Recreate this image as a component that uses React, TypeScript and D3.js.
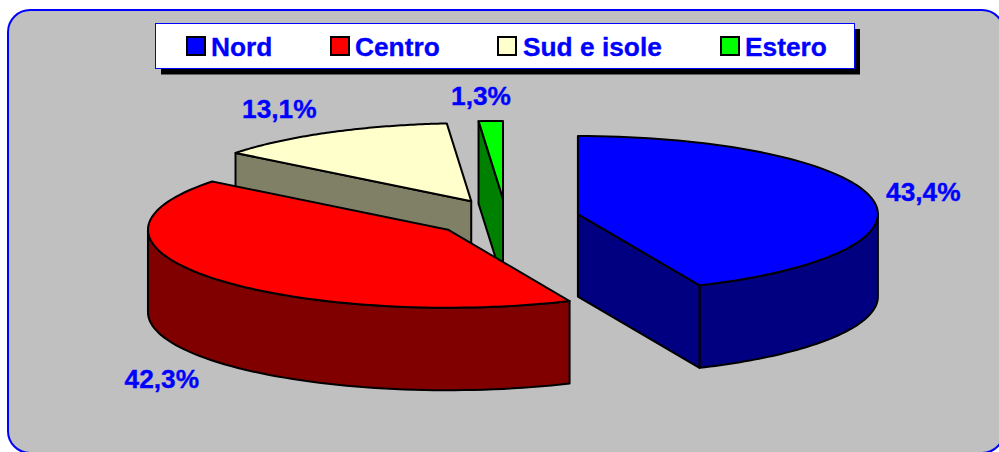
import React from "react";
import * as d3 from "d3";

const categories = ["Nord", "Centro", "Sud e isole", "Estero"];
const values = [43.4, 42.3, 13.1, 1.3];
const valueLabels = ["43,4%", "42,3%", "13,1%", "1,3%"];
const topColors = ["#0000ff", "#ff0000", "#ffffcc", "#00ff00"];
const wallColors = ["#000080", "#800000", "#808066", "#008000"];
const labelX = [886, 124.5, 242, 451];
const labelY = [201, 388, 117.5, 105];
const legendSwatchX = [187, 331, 498, 721];
const legendTextX = [211, 355, 523, 745];
const drawOrder = [2, 3, 1, 0];

const W = 999;
const H = 452;
const RX = 300;
const RY = 78;
const DEPTH = 82.5;
const CX = 506;
const CY = 218;
const EXPLODE = 0.245;
const STROKE = 2;

const sx = d3.scaleLinear().domain([-1, 1]).range([-RX, RX]);
const sy = d3.scaleLinear().domain([-1, 1]).range([RY, -RY]);

const arcs = d3.pie<number>().sort(null).value((d) => d).startAngle(0).endAngle(2 * Math.PI)(values);

type P = [number, number];

function App() {
  const line = d3.line<P>().x((d) => d[0]).y((d) => d[1]);
  const slices = arcs.map((a, i) => {
    const mid = (a.startAngle + a.endAngle) / 2;
    const cx = CX + EXPLODE * sx(Math.sin(mid));
    const cy = CY + EXPLODE * sy(Math.cos(mid));
    const pt = (t: number, dz = 0): P => [cx + sx(Math.sin(t)), cy + sy(Math.cos(t)) + dz];
    const apex: P = [cx, cy];
    const steps = d3.range(0, 81).map((k) => a.startAngle + ((a.endAngle - a.startAngle) * k) / 80);
    const top = line([apex, ...steps.map((t) => pt(t))]) + "Z";

    const walls: string[] = [];
    // outer curved wall: only the part facing the viewer (t between PI/2 and 3PI/2)
    const w0 = Math.max(a.startAngle, Math.PI / 2);
    const w1 = Math.min(a.endAngle, (3 * Math.PI) / 2);
    if (w1 > w0) {
      const ws = d3.range(0, 61).map((k) => w0 + ((w1 - w0) * k) / 60);
      walls.push(line([...ws.map((t) => pt(t)), ...ws.slice().reverse().map((t) => pt(t, DEPTH))]) + "Z");
    }
    // cut faces that look toward the viewer
    const faceEnd = a.endAngle < Math.PI;
    const faceStart = a.startAngle > Math.PI;
    if (faceEnd) {
      const p = pt(a.endAngle);
      walls.push(line([apex, p, [p[0], p[1] + DEPTH], [apex[0], apex[1] + DEPTH]]) + "Z");
    }
    if (faceStart) {
      const p = pt(a.startAngle);
      walls.push(line([apex, p, [p[0], p[1] + DEPTH], [apex[0], apex[1] + DEPTH]]) + "Z");
    }
    return { i, top, walls };
  });

  const font = "'Liberation Sans', Arial, sans-serif";
  const textStyle = {
    fontFamily: font,
    fontWeight: "bold" as const,
    fontSize: 26.3,
    fill: "#0000ff",
    stroke: "#0000ff",
    strokeWidth: 0.35,
  };

  return (
    <svg
      width={W}
      height={H}
      viewBox={`0 0 ${W} ${H}`}
      style={{ position: "absolute", left: 0, top: 0, display: "block", background: "#fff" }}
    >
      <rect x={8} y={10} width={996} height={443} rx={22} ry={22} fill="#c0c0c0" stroke="#0000ff" strokeWidth={2} />

      <rect x={161} y={29} width={699} height={45.5} fill="#000" />
      <rect x={155.5} y={23.5} width={699} height={45} fill="#fff" stroke="#0000ff" strokeWidth={1} />
      {categories.map((c, i) => (
        <g key={c}>
          <rect x={legendSwatchX[i]} y={37} width={18} height={18} fill={topColors[i]} stroke="#000" strokeWidth={2} />
          <text x={legendTextX[i]} y={56} style={textStyle}>
            {c}
          </text>
        </g>
      ))}

      {drawOrder.map((idx) => {
        const s = slices[idx];
        return (
          <g key={idx} stroke="#000" strokeWidth={STROKE} strokeLinejoin="round">
            {s.walls.map((d, k) => (
              <path key={k} d={d} fill={wallColors[idx]} />
            ))}
            <path d={s.top} fill={topColors[idx]} />
          </g>
        );
      })}

      {valueLabels.map((t, i) => (
        <text key={t} x={labelX[i]} y={labelY[i]} style={textStyle}>
          {t}
        </text>
      ))}
    </svg>
  );
}

export default App;
